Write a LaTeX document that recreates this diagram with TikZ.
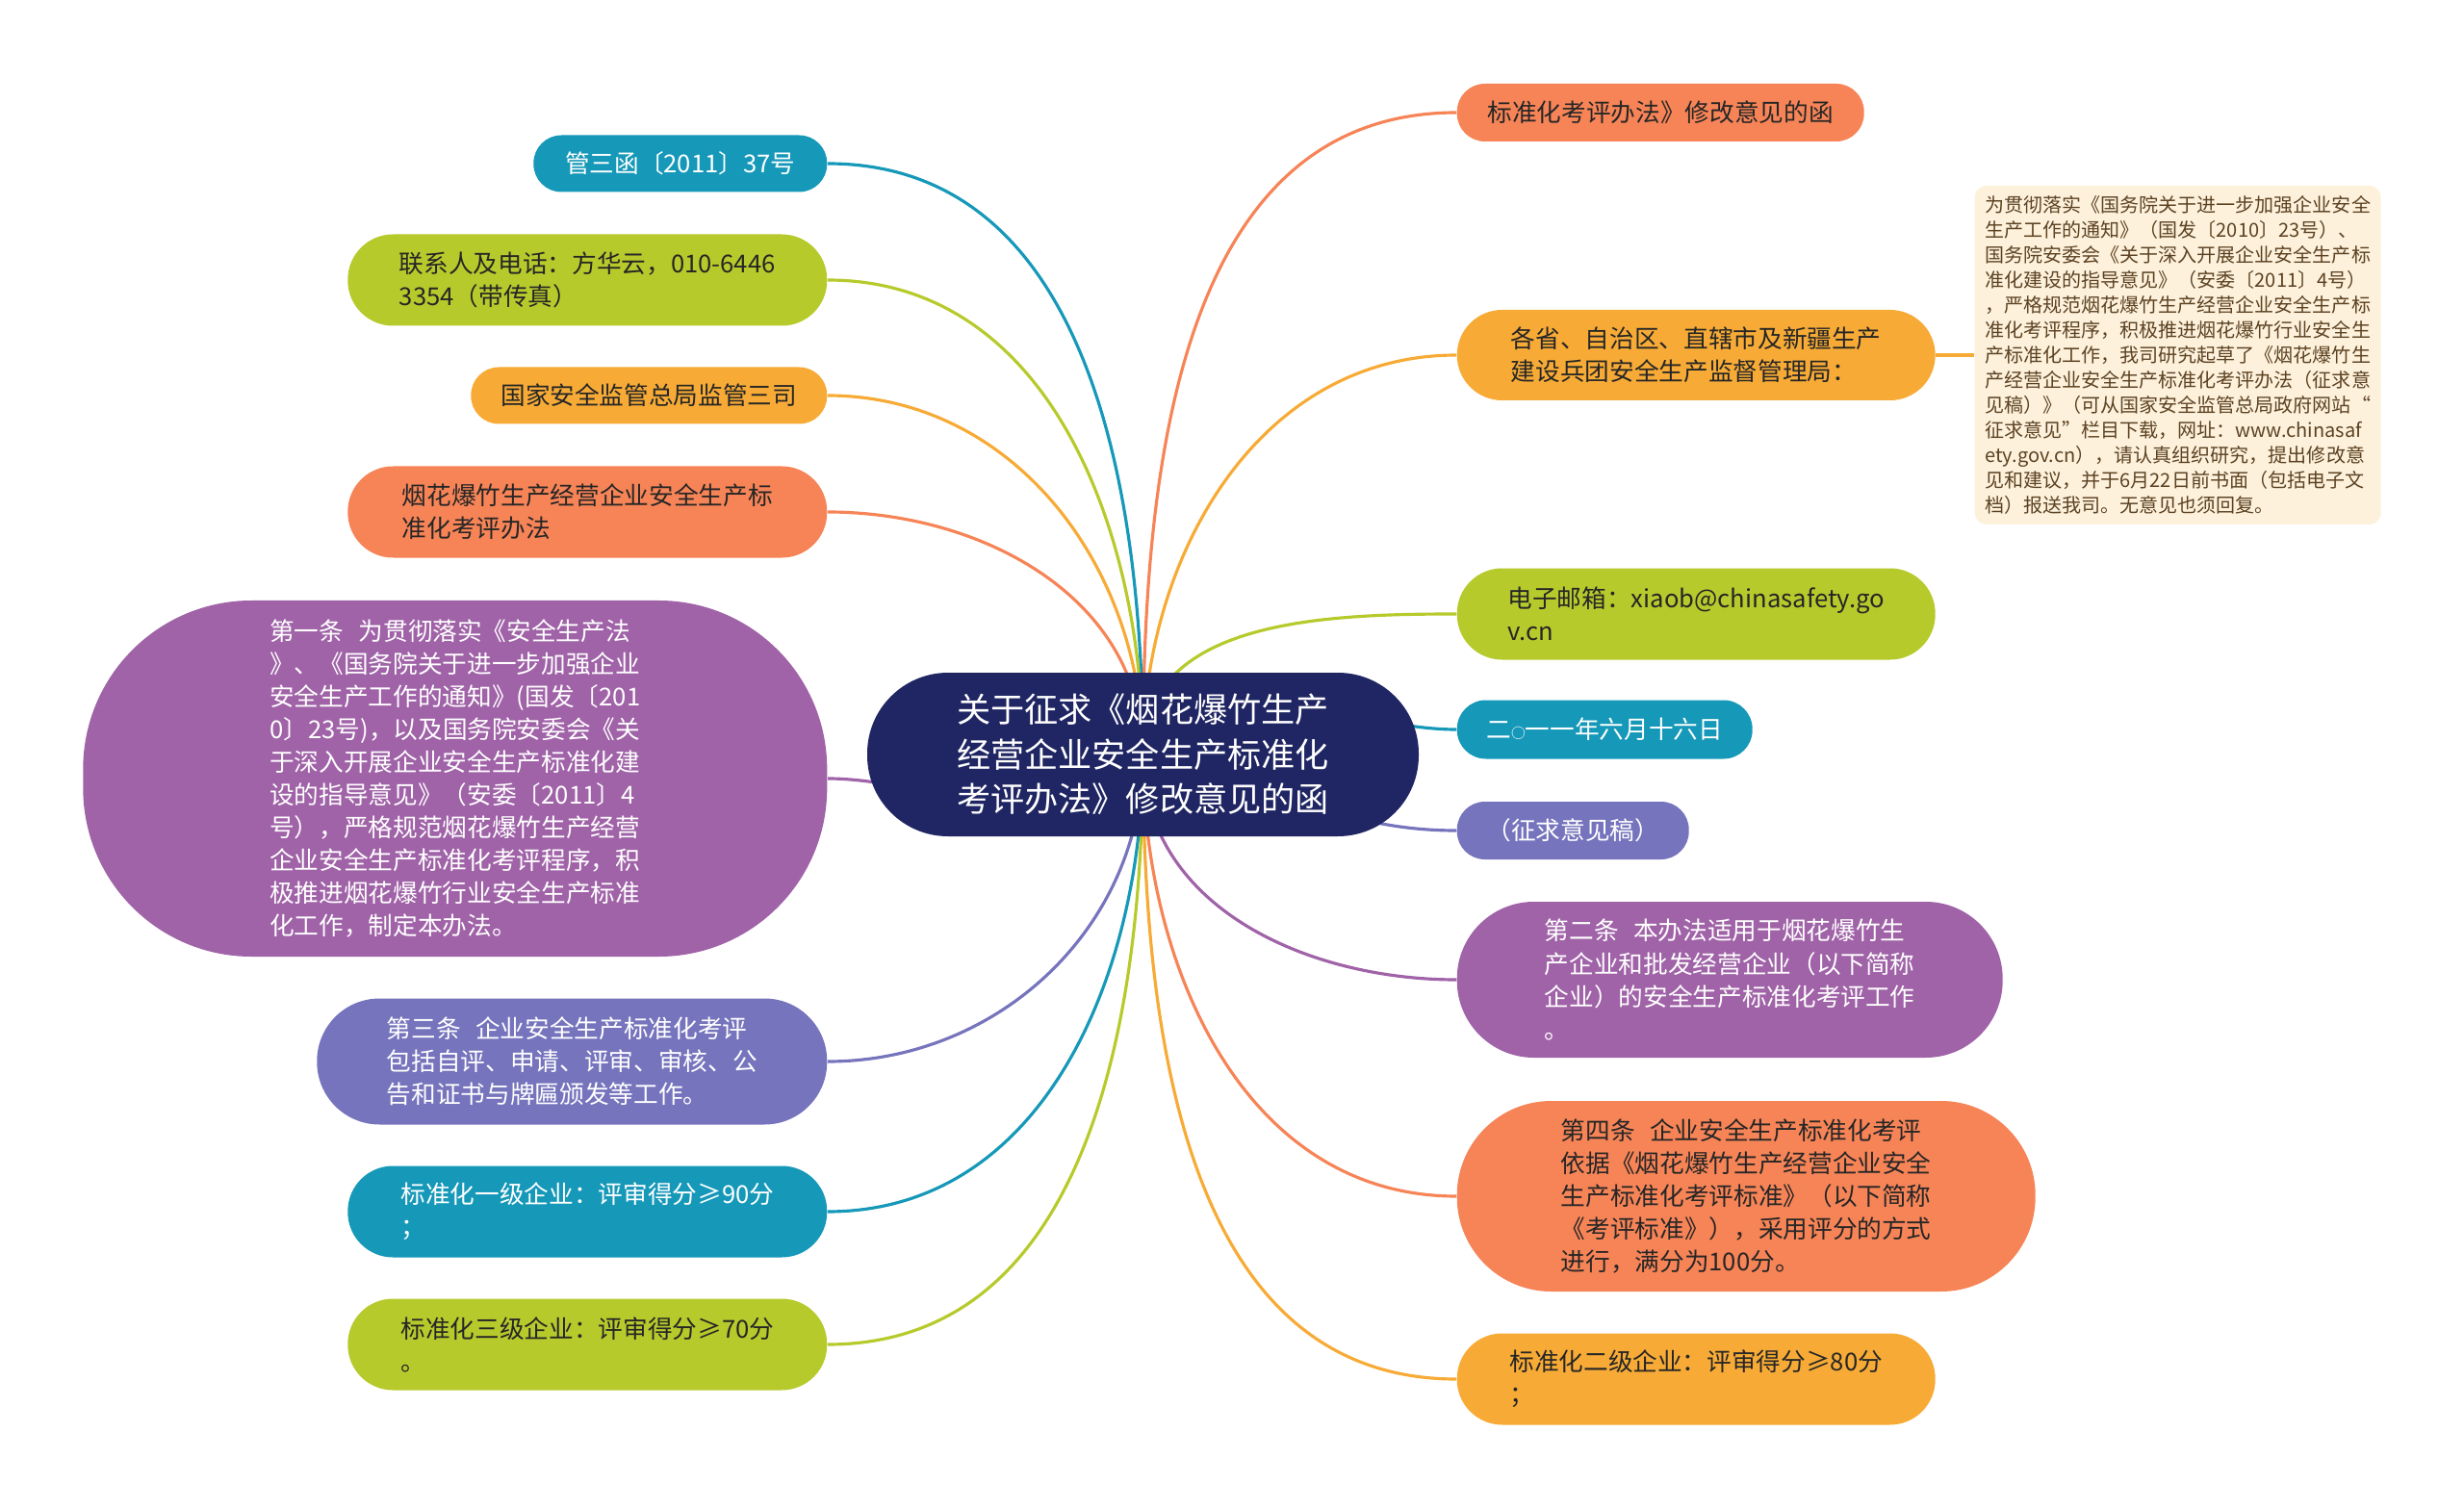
\documentclass[tikz,border=0pt]{standalone}
\usepackage{fontspec}
\setmainfont{Noto Sans CJK SC}
\usetikzlibrary{backgrounds}

\definecolor{cNavy}{RGB}{32,38,99}
\definecolor{cTeal}{RGB}{22,152,185}
\definecolor{cLime}{RGB}{183,202,44}
\definecolor{cAmber}{RGB}{247,171,54}
\definecolor{cCoral}{RGB}{246,132,87}
\definecolor{cPlum}{RGB}{160,99,168}
\definecolor{cSlate}{RGB}{118,116,189}
\definecolor{cCream}{RGB}{253,241,220}
\definecolor{cInk}{RGB}{38,38,38}
\definecolor{cBrown}{RGB}{92,66,34}

\begin{document}
\begin{tikzpicture}[
    leaf/.style={rounded corners=#1, inner sep=0pt, align=left,
                 font=\fontsize{7.3pt}{9.7pt}\selectfont},
    bk/.style={fill=#1, text=cInk},
    wt/.style={fill=#1, text=white},
    link/.style={draw=#1, line width=0.9pt}]
    \useasboundingbox (0,0) rectangle (25.6,-15.68);

    % 中心主题
    \node[fill=cNavy, text=white, rounded corners=0.84cm, minimum width=5.73cm,
          minimum height=1.70cm, align=center,
          font=\fontsize{10pt}{13.2pt}\selectfont] (c) at (11.875,-7.84)
          {关于征求《烟花爆竹生产\\经营企业安全生产标准化\\考评办法》修改意见的函};

    % 左侧分支
    \node[leaf=0.29cm, wt=cTeal, minimum width=3.05cm, minimum height=0.59cm, anchor=east]
          (l1) at (8.60,-1.70) {管三函〔2011〕37号};
    \node[leaf=0.47cm, bk=cLime, minimum width=4.98cm, minimum height=0.95cm, anchor=east]
          (l2) at (8.60,-2.91) {联系人及电话：方华云，010-6446\\3354（带传真）};
    \node[leaf=0.29cm, bk=cAmber, minimum width=3.70cm, minimum height=0.59cm, anchor=east]
          (l3) at (8.60,-4.11) {国家安全监管总局监管三司};
    \node[leaf=0.47cm, bk=cCoral, minimum width=4.98cm, minimum height=0.95cm, anchor=east]
          (l4) at (8.60,-5.32) {烟花爆竹生产经营企业安全生产标\\准化考评办法};
    \node[leaf=1.75cm, wt=cPlum, minimum width=7.73cm, minimum height=3.70cm, anchor=east]
          (l5) at (8.60,-8.09) {第一条\hspace{0.6em}为贯彻落实《安全生产法\\》、《国务院关于进一步加强企业\\安全生产工作的通知》(国发〔201\\0〕23号)，以及国务院安委会《关\\于深入开展企业安全生产标准化建\\设的指导意见》（安委〔2011〕4\\号），严格规范烟花爆竹生产经营\\企业安全生产标准化考评程序，积\\极推进烟花爆竹行业安全生产标准\\化工作，制定本办法。};
    \node[leaf=0.65cm, wt=cSlate, minimum width=5.30cm, minimum height=1.31cm, anchor=east]
          (l6) at (8.60,-11.03) {第三条\hspace{0.6em}企业安全生产标准化考评\\包括自评、申请、评审、审核、公\\告和证书与牌匾颁发等工作。};
    \node[leaf=0.47cm, wt=cTeal, minimum width=4.98cm, minimum height=0.95cm, anchor=east]
          (l7) at (8.60,-12.59) {标准化一级企业：评审得分≥90分\\；};
    \node[leaf=0.47cm, bk=cLime, minimum width=4.98cm, minimum height=0.95cm, anchor=east]
          (l8) at (8.60,-13.97) {标准化三级企业：评审得分≥70分\\。};

    % 右侧分支
    \node[leaf=0.29cm, bk=cCoral, minimum width=4.23cm, minimum height=0.60cm, anchor=west]
          (r1) at (15.13,-1.17) {标准化考评办法》修改意见的函};
    \node[leaf=0.47cm, bk=cAmber, minimum width=4.97cm, minimum height=0.94cm, anchor=west]
          (r2) at (15.13,-3.69) {各省、自治区、直辖市及新疆生产\\建设兵团安全生产监督管理局：};
    \node[leaf=0.47cm, bk=cLime, minimum width=4.97cm, minimum height=0.95cm, anchor=west]
          (r3) at (15.13,-6.38) {电子邮箱：xiaob@chinasafety.go\\v.cn};
    \node[leaf=0.30cm, wt=cTeal, minimum width=3.07cm, minimum height=0.61cm, anchor=west]
          (r4) at (15.13,-7.58) {二{\fontsize{4.2pt}{5pt}\selectfont ○}一一年六月十六日};
    \node[leaf=0.29cm, wt=cSlate, minimum width=2.41cm, minimum height=0.60cm, anchor=west]
          (r5) at (15.13,-8.63) {（征求意见稿）};
    \node[leaf=0.80cm, wt=cPlum, minimum width=5.67cm, minimum height=1.62cm, anchor=west]
          (r6) at (15.13,-10.18) {第二条\hspace{0.6em}本办法适用于烟花爆竹生\\产企业和批发经营企业（以下简称\\企业）的安全生产标准化考评工作\\。};
    \node[leaf=0.98cm, bk=cCoral, minimum width=6.01cm, minimum height=1.98cm, anchor=west]
          (r7) at (15.13,-12.43) {第四条\hspace{0.6em}企业安全生产标准化考评\\依据《烟花爆竹生产经营企业安全\\生产标准化考评标准》（以下简称\\《考评标准》），采用评分的方式\\进行，满分为100分。};
    \node[leaf=0.47cm, bk=cAmber, minimum width=4.97cm, minimum height=0.95cm, anchor=west]
          (r8) at (15.13,-14.33) {标准化二级企业：评审得分≥80分\\；};

    % 备注
    \node[fill=cCream, text=cBrown, rounded corners=0.12cm, inner sep=0pt,
          minimum width=4.22cm, minimum height=3.52cm, align=left, anchor=west,
          font=\fontsize{5.7pt}{7.38pt}\selectfont] (memo) at (20.51,-3.69)
          {为贯彻落实《国务院关于进一步加强企业安全\\生产工作的通知》（国发〔2010〕23号）、\\国务院安委会《关于深入开展企业安全生产标\\准化建设的指导意见》（安委〔2011〕4号）\\，严格规范烟花爆竹生产经营企业安全生产标\\准化考评程序，积极推进烟花爆竹行业安全生\\产标准化工作，我司研究起草了《烟花爆竹生\\产经营企业安全生产标准化考评办法（征求意\\见稿）》（可从国家安全监管总局政府网站“\\征求意见”栏目下载，网址：www.chinasaf\\ety.gov.cn），请认真组织研究，提出修改意\\见和建议，并于6月22日前书面（包括电子文\\档）报送我司。无意见也须回复。};

    % 连线
    \begin{scope}[on background layer]
        \draw[link=cTeal]  (c.center) to[out=90,in=0] (l1.east);
        \draw[link=cLime]  (c.center) to[out=90,in=0] (l2.east);
        \draw[link=cAmber] (c.center) to[out=90,in=0] (l3.east);
        \draw[link=cCoral] (c.center) to[out=90,in=0] (l4.east);
        \draw[link=cPlum]  (c.center) to[out=-90,in=0] (l5.east);
        \draw[link=cSlate] (c.center) to[out=-90,in=0] (l6.east);
        \draw[link=cTeal]  (c.center) to[out=-90,in=0] (l7.east);
        \draw[link=cLime]  (c.center) to[out=-90,in=0] (l8.east);

        \draw[link=cCoral] (c.center) to[out=90,in=180] (r1.west);
        \draw[link=cAmber] (c.center) to[out=90,in=180] (r2.west);
        \draw[link=cLime]  (c.center) to[out=90,in=180] (r3.west);
        \draw[link=cTeal]  (c.center) to[out=90,in=180] (r4.west);
        \draw[link=cSlate] (c.center) to[out=-10,in=180] (r5.west);
        \draw[link=cPlum]  (c.center) to[out=-90,in=180] (r6.west);
        \draw[link=cCoral] (c.center) to[out=-90,in=180] (r7.west);
        \draw[link=cAmber] (c.center) to[out=-90,in=180] (r8.west);

        \draw[link=cAmber] (r2.east) -- (memo.west);
    \end{scope}
\end{tikzpicture}
\end{document}
